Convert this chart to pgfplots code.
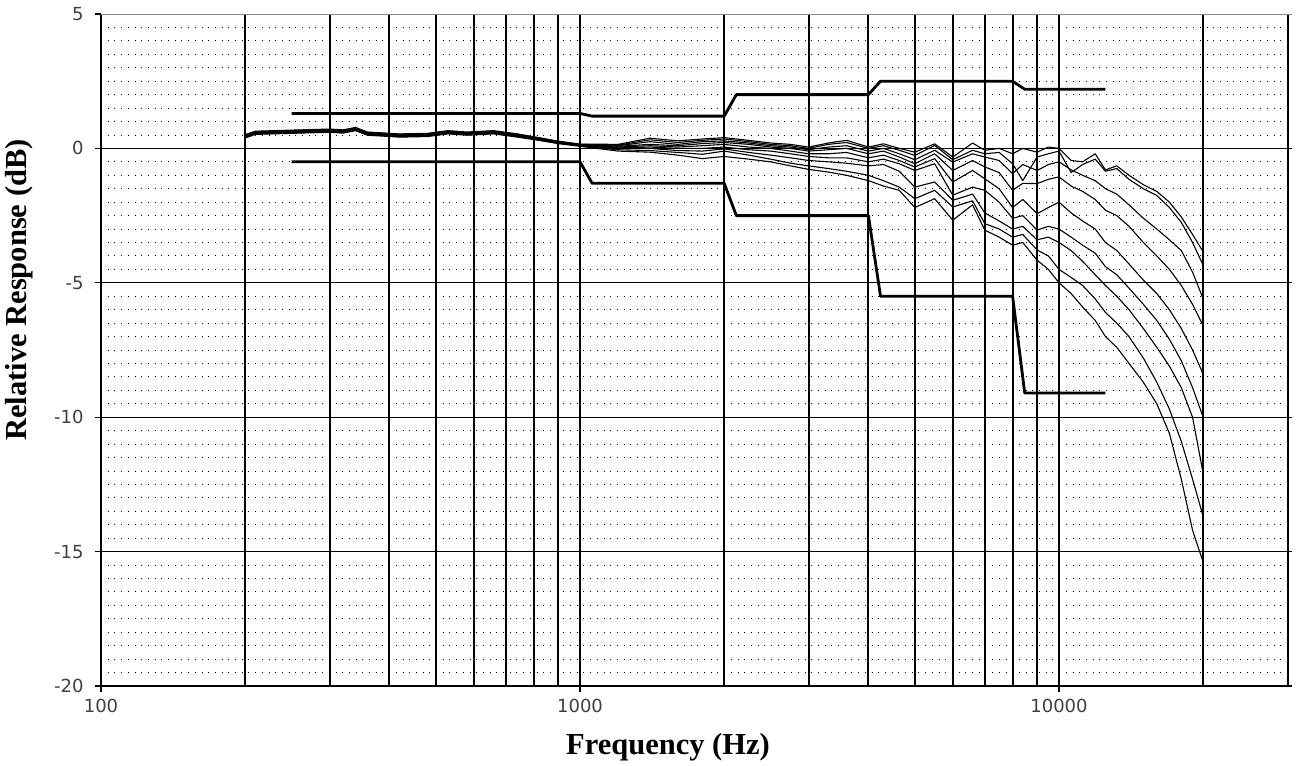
\documentclass[border=0pt]{standalone}
\usepackage{pgfplots}
\usepackage{pgfplotstable}
\pgfplotsset{compat=1.18}
\usepackage{fontspec}
\setmainfont{Liberation Serif}
\newfontfamily\ticksans{DejaVu Sans}

\pgfplotstableread{
f c1 c2 c3 c4 c5 c6 c7 c8 c9
200 0.51 0.49 0.48 0.46 0.45 0.44 0.42 0.41 0.39
210 0.64 0.62 0.61 0.59 0.58 0.57 0.55 0.54 0.52
250 0.68 0.66 0.65 0.63 0.62 0.61 0.59 0.58 0.56
300 0.72 0.70 0.69 0.67 0.66 0.65 0.63 0.62 0.60
320 0.69 0.67 0.66 0.64 0.63 0.62 0.60 0.59 0.57
340 0.78 0.76 0.75 0.73 0.72 0.71 0.69 0.68 0.66
360 0.61 0.59 0.58 0.56 0.55 0.54 0.52 0.51 0.49
420 0.54 0.52 0.51 0.49 0.48 0.47 0.45 0.44 0.42
480 0.56 0.54 0.53 0.51 0.50 0.49 0.47 0.46 0.44
530 0.66 0.64 0.63 0.61 0.60 0.59 0.57 0.56 0.54
580 0.61 0.59 0.58 0.56 0.55 0.54 0.52 0.51 0.49
660 0.66 0.64 0.63 0.61 0.60 0.59 0.57 0.56 0.54
740 0.54 0.52 0.51 0.49 0.48 0.47 0.45 0.44 0.42
820 0.40 0.39 0.38 0.36 0.35 0.34 0.33 0.32 0.30
900 0.27 0.26 0.25 0.23 0.22 0.21 0.20 0.19 0.18
1000 0.16 0.15 0.13 0.12 0.11 0.10 0.10 0.09 0.08
1200 0.15 0.12 0.10 0.08 0.05 0.02 0.00 -0.05 -0.10
1400 0.38 0.32 0.25 0.15 0.10 0.05 0.00 -0.08 -0.14
1600 0.28 0.22 0.15 0.10 0.05 0.00 -0.08 -0.15 -0.25
1800 0.35 0.30 0.25 0.18 0.10 0.00 -0.10 -0.22 -0.38
2000 0.40 0.35 0.28 0.22 0.15 0.05 -0.02 -0.10 -0.30
2250 0.30 0.25 0.20 0.15 0.05 -0.05 -0.15 -0.25 -0.40
2500 0.20 0.15 0.10 0.05 0.00 -0.10 -0.25 -0.40 -0.50
2750 0.15 0.10 0.05 0.00 -0.10 -0.20 -0.35 -0.55 -0.65
3000 0.05 0.00 -0.05 -0.10 -0.20 -0.30 -0.45 -0.65 -0.78
3300 0.20 0.15 0.05 -0.05 -0.20 -0.35 -0.50 -0.75 -0.88
3600 0.30 0.22 0.10 0.00 -0.15 -0.35 -0.55 -0.85 -1.00
4000 0.05 0.00 -0.10 -0.20 -0.35 -0.50 -0.65 -1.00 -1.20
4300 0.17 0.10 0.00 -0.10 -0.25 -0.40 -0.60 -1.20 -1.40
4640 0.00 -0.07 -0.20 -0.32 -0.45 -0.57 -0.85 -1.44 -1.56
5000 -0.14 -0.26 -0.42 -0.57 -0.69 -0.82 -1.44 -1.87 -2.20
5500 0.17 0.11 -0.07 -0.20 -0.38 -0.57 -1.25 -1.56 -1.87
6000 -0.32 -0.42 -0.51 -0.82 -1.25 -1.74 -1.93 -2.18 -2.67
6600 0.20 -0.07 -0.20 -0.45 -0.82 -1.44 -1.70 -1.95 -2.10
7000 -0.07 -0.20 -0.32 -0.69 -1.13 -1.56 -2.40 -2.80 -3.04
7500 0.00 -0.15 -0.45 -0.90 -1.50 -2.00 -2.70 -3.00 -3.30
8000 -0.20 -0.57 -0.94 -1.56 -2.20 -2.60 -3.00 -3.30 -3.60
8400 0.00 -1.20 -0.60 -1.30 -1.90 -2.50 -2.90 -3.20 -3.50
9000 -0.14 -0.32 -0.82 -1.31 -2.43 -3.04 -3.40 -3.78 -4.16
9500 0.05 -0.20 -0.60 -1.15 -2.20 -2.90 -3.30 -4.00 -4.50
10000 0.00 -0.10 -0.50 -1.06 -2.00 -3.00 -3.50 -4.50 -5.00
10600 -0.45 -0.90 -0.80 -1.40 -2.40 -3.30 -3.80 -4.80 -5.40
11200 -0.50 -0.60 -1.00 -1.60 -2.70 -3.60 -4.20 -5.10 -5.90
11900 -0.20 -0.40 -1.20 -1.90 -3.00 -3.90 -4.70 -5.60 -6.40
12500 -0.80 -0.85 -1.50 -2.30 -3.50 -4.40 -5.10 -6.10 -7.00
13200 -0.65 -0.75 -1.70 -2.50 -3.80 -4.70 -5.50 -6.50 -7.40
14000 -1.00 -1.15 -2.10 -2.90 -4.30 -5.20 -6.00 -7.00 -8.00
15000 -1.35 -1.50 -2.60 -3.50 -4.90 -5.80 -6.70 -7.80 -8.70
16000 -1.60 -1.75 -3.00 -4.00 -5.40 -6.40 -7.40 -8.70 -9.50
17000 -2.00 -2.20 -3.40 -4.50 -6.00 -7.10 -8.10 -9.70 -10.60
18000 -2.55 -2.75 -3.80 -5.10 -6.70 -7.90 -8.90 -10.90 -12.30
19000 -3.20 -3.50 -4.60 -5.80 -7.50 -8.90 -10.00 -12.30 -14.20
20000 -3.85 -4.35 -5.60 -6.60 -8.40 -10.00 -12.10 -13.70 -15.40
}\resp

\pgfplotstableread{
f upper
250 1.3
1000 1.3
1060 1.2
2000 1.2
2120 2.0
4000 2.0
4240 2.5
8000 2.5
8480 2.2
12500 2.2
}\upperlim

\pgfplotstableread{
f lower
250 -0.5
1000 -0.5
1060 -1.3
2000 -1.3
2120 -2.5
4000 -2.5
4240 -5.5
8000 -5.5
8480 -9.1
12500 -9.1
}\lowerlim

\begin{document}
\begin{tikzpicture}
\begin{axis}[
  name=ax,
  xmode=log,
  scale only axis,
  width=1191pt, height=672pt,
  xmin=100, xmax=30650,
  ymin=-20, ymax=5,
  axis lines*=left,
  axis line style={line width=2.6pt, black},
  xtick={100,1000,10000},
  xticklabels={100,1000,10000},
  ytick={-20,-15,-10,-5,0},
  yticklabels={-20,-15,-10,-5,0},
  extra y ticks={5},
  extra y tick labels={5},
  extra y tick style={grid=major, y grid style={black!45, line width=0.9pt}},
  minor ytick={-19.5,-19,-18.5,-18,-17.5,-17,-16.5,-16,-15.5,-14.5,-14,-13.5,-13,-12.5,-12,-11.5,-11,-10.5,-9.5,-9,-8.5,-8,-7.5,-7,-6.5,-6,-5.5,-4.5,-4,-3.5,-3,-2.5,-2,-1.5,-1,-0.5,0.5,1,1.5,2,2.5,3,3.5,4,4.5},
  extra x ticks={200,300,400,500,600,700,800,900,2000,3000,4000,5000,6000,7000,8000,9000,20000,30000},
  extra x tick labels={},
  extra x tick style={grid=major, major tick length=0pt},
  xmajorgrids=true,
  ymajorgrids=true,
  yminorgrids=true,
  major grid style={black},
  x grid style={black, line width=2pt},
  y grid style={black, line width=0.9pt},
  minor grid style={black, line width=1pt, dash pattern=on 1pt off 5.7pt},
  tick align=outside,
  major tick length=6pt,
  minor tick length=0pt,
  tick style={black, line width=1.2pt},
  tick label style={font=\ticksans\fontsize{18}{18}\selectfont, text=black!75},
  yticklabel style={xshift=-8pt},
  xticklabel style={yshift=-4pt},
  every axis plot/.append style={black, mark=none, line join=round},
]
\addplot[line width=1.1pt] table[x=f,y=c1] {\resp};
\addplot[line width=1.1pt] table[x=f,y=c2] {\resp};
\addplot[line width=1.1pt] table[x=f,y=c3] {\resp};
\addplot[line width=1.1pt] table[x=f,y=c4] {\resp};
\addplot[line width=1.1pt] table[x=f,y=c5] {\resp};
\addplot[line width=1.1pt] table[x=f,y=c6] {\resp};
\addplot[line width=1.1pt] table[x=f,y=c7] {\resp};
\addplot[line width=1.1pt] table[x=f,y=c8] {\resp};
\addplot[line width=1.1pt] table[x=f,y=c9] {\resp};
\addplot[line width=2.8pt] table[x=f,y=upper] {\upperlim};
\addplot[line width=2.8pt] table[x=f,y=lower] {\lowerlim};
\end{axis}
\node[font=\bfseries\fontsize{30.5}{30.5}\selectfont] at ([shift={(567pt,-61pt)}]ax.south west) {Frequency (Hz)};
\node[rotate=90, font=\bfseries\fontsize{30.5}{30.5}\selectfont] at ([shift={(-82pt,396pt)}]ax.south west) {Relative Response (dB)};
\pgfresetboundingbox
\path (ax.south west) ++(-101pt,-79pt) rectangle ([xshift=6pt,yshift=14pt]ax.north east);
\end{tikzpicture}
\end{document}
